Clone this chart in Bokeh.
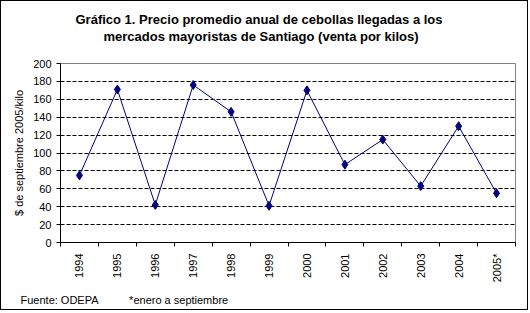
import math
from bokeh.plotting import figure
from bokeh.models import Range1d, FixedTicker, Title
from bokeh.embed import file_html
from bokeh.resources import INLINE

years = ["1994", "1995", "1996", "1997", "1998", "1999", "2000", "2001", "2002", "2003", "2004", "2005*"]
prices = [75, 171, 42, 176, 146, 41, 170, 87, 115, 63, 130, 55]
y_ticks = [0, 20, 40, 60, 80, 100, 120, 140, 160, 180, 200]

title_lines = ["Gráfico 1. Precio promedio anual de cebollas llegadas a los",
               "mercados mayoristas de Santiago (venta por kilos)"]
y_label = "$ de septiembre 2005/kilo"
source_note = "Fuente: ODEPA"
foot_note = "*enero a septiembre"

FONT = "Liberation Sans"
idx = list(range(len(years)))

p = figure(width=528, height=310, output_backend="svg", toolbar_location=None,
           x_range=Range1d(-0.5, len(years) - 0.5), y_range=Range1d(0, 200),
           min_border_left=59, min_border_right=14, min_border_top=62, min_border_bottom=68)
p.styles = {"border": "1px solid black"}
p.background_fill_color = "white"
p.border_fill_color = "white"
p.outline_line_color = "#808080"
p.outline_line_width = 1

p.line(idx, prices, line_color="#000080", line_width=1)
p.scatter(idx, prices, marker="diamond", size=9, fill_color="#000080", line_color="#000080")

# x axis
xa = p.xaxis[0]
xa.ticker = FixedTicker(ticks=idx, minor_ticks=[i - 0.5 for i in range(len(years) + 1)])
xa.major_label_overrides = {i: y for i, y in zip(idx, years)}
xa.major_label_orientation = math.pi / 2
xa.major_tick_out = 0
xa.major_tick_in = 0
xa.minor_tick_out = 4
xa.minor_tick_in = 0
xa.minor_tick_line_color = "black"
xa.axis_line_color = "black"
xa.major_label_text_font = FONT
xa.major_label_text_font_size = "11px"
xa.major_label_text_color = "black"
xa.major_label_standoff = 7

# y axis
ya = p.yaxis[0]
ya.ticker = FixedTicker(ticks=y_ticks)
ya.major_tick_out = 4
ya.major_tick_in = 0
ya.minor_tick_line_color = None
ya.axis_line_color = "black"
ya.major_label_text_font = FONT
ya.major_label_text_font_size = "11px"
ya.major_label_text_color = "black"
ya.major_label_standoff = 5
ya.axis_label = y_label
ya.axis_label_text_font = FONT
ya.axis_label_text_font_size = "11px"
ya.axis_label_text_font_style = "normal"
ya.axis_label_text_color = "black"
ya.axis_label_standoff = 5

p.xgrid.grid_line_color = None
p.ygrid.ticker = FixedTicker(ticks=y_ticks[1:-1])
p.ygrid.grid_line_color = "black"
p.ygrid.grid_line_dash = "4 2"
p.ygrid.grid_line_width = 1

# two-line title: later-added "above" titles go further from the plot
p.title = None
# blank spacer between the plot frame and the title block
p.add_layout(Title(text="\u00a0", text_font=FONT, text_font_size="13px", standoff=3), "above")
p.add_layout(Title(text=title_lines[1], align="left", offset=43, text_font=FONT, text_font_size="13px",
                   text_font_style="bold", text_color="black", standoff=0), "above")
p.add_layout(Title(text=title_lines[0], align="left", offset=15, text_font=FONT, text_font_size="13px",
                   text_font_style="bold", text_color="black", standoff=0), "above")

# footer
footer = source_note + "\u00a0" * 10 + foot_note
p.add_layout(Title(text=footer, align="left", offset=-40, text_font=FONT, text_font_size="11px",
                   text_font_style="normal", text_color="black", standoff=12), "below")

open("out.html", "w").write(file_html(p, INLINE))
